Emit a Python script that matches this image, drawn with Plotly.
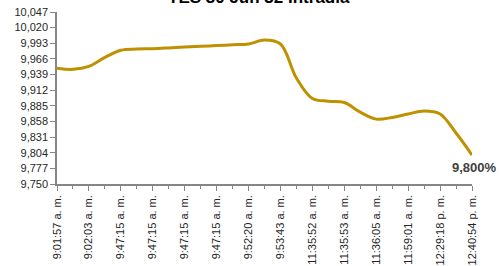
import plotly.graph_objects as go

title_text = "TES 30 Jun 32 Intradía"
tick_labels = ["9:01:57 a. m.", "9:02:03 a. m.", "9:47:15 a. m.", "9:47:15 a. m.",
               "9:47:15 a. m.", "9:47:15 a. m.", "9:52:20 a. m.", "9:53:43 a. m.",
               "11:35:52 a. m.", "11:35:53 a. m.", "11:36:05 a. m.", "11:59:01 a. m.",
               "12:29:18 p. m.", "12:40:54 p. m."]
values = [9950, 9948, 9953, 9968.5, 9981, 9983, 9983.6, 9985, 9986.6, 9987.8,
          9989, 9990.5, 9991.8, 9998.7, 9991.8, 9933, 9897.6, 9893, 9890.7, 9874,
          9862, 9865, 9871, 9876, 9871, 9838, 9800]
y_ticks = [9750, 9777, 9804, 9831, 9858, 9885, 9912, 9939, 9966, 9993, 10020, 10047]
last_label = "9,800%"

idx = list(range(len(values)))
label_pos = idx[::2]

font = "Liberation Sans, Arial, sans-serif"
fig = go.Figure()
fig.add_trace(go.Scatter(
    x=idx, y=values, mode="lines",
    line=dict(color="#BF9000", width=3, shape="spline", smoothing=1.0),
    hoverinfo="skip", showlegend=False, cliponaxis=False,
))
fig.add_annotation(x=idx[-1], y=values[-1], text=last_label, showarrow=False,
                   xanchor="right", yanchor="middle", yshift=-12, xshift=27,
                   font=dict(family=font, size=13, color="#404040", weight="bold"))
fig.add_annotation(x=0.5, y=1, xref="paper", yref="paper", text=title_text,
                   showarrow=False, xanchor="center", yanchor="bottom",
                   yshift=3, xshift=-6,
                   font=dict(family=font, size=17, color="#000000", weight="bold"))
fig.update_layout(
    width=499, height=266,
    margin=dict(l=57, r=27, t=12, b=82, autoexpand=False),
    paper_bgcolor="white", plot_bgcolor="white",
    font=dict(family=font, size=11, color="#262626"),
    xaxis=dict(range=[0, len(values) - 1], tickmode="array", tickvals=label_pos,
               ticktext=tick_labels, tickangle=-90, showgrid=False, zeroline=False,
               showline=True, linecolor="#868686", linewidth=1.5, automargin=False,
               ticks="outside", ticklen=5, tickcolor="#868686",
               ticklabeloverflow="allow",
               minor=dict(tickmode="array", tickvals=idx, ticks="outside",
                          ticklen=3, tickcolor="#868686", showgrid=False),
               tickfont=dict(size=11)),
    yaxis=dict(range=[y_ticks[0], y_ticks[-1]], tickmode="array", tickvals=y_ticks,
               tickformat=",d", showgrid=False, zeroline=False, automargin=False,
               showline=True, linecolor="#868686", linewidth=1.5,
               ticks="outside", ticklen=5, tickcolor="#868686",
               ticklabeloverflow="allow",
               tickfont=dict(size=11)),
)
fig.write_html("out.html", config={"displayModeBar": False},
               post_script="document.body.style.margin='0';")
